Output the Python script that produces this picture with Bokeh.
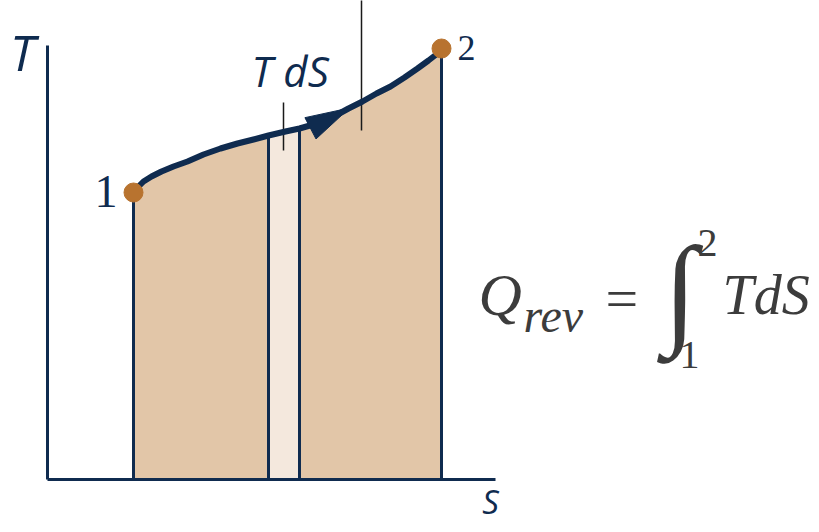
import numpy as np
from bokeh.plotting import figure
from bokeh.models import Range1d
from bokeh.core.properties import value
from bokeh.embed import file_html
from bokeh.resources import INLINE

# Process curve on the T-S diagram (arbitrary units)
S_curve = [86, 90, 96, 104, 114, 126, 140, 156, 173, 190, 206, 221, 238, 252, 266, 278, 290, 301, 315, 329, 343, 357, 370, 381, 390, 394]
T_curve = [287, 292, 298, 303, 308, 313, 318, 325, 331, 336, 340, 344, 348, 351, 355, 360, 365, 371, 378, 386, 393, 402, 411, 419, 426, 431]
state_S = [86, 394]
state_T = [287, 431]
state_labels = ["1", "2"]
strip_S = [221, 252]          # the dS strip
axis_S_max = 448
axis_T_max = 434
tick_dS = [236, 329, 377]     # S, T from, T to
pointer = [314, 349, 480]     # S, T from, T to

NAVY = "#0f2b4f"
FILL = "#e2c6a8"
STRIP = "#f4e8dd"
DOT = "#b8732f"
FORM = "#3c3c3c"

W_PX, H_PX = 811, 524
p = figure(width=W_PX, height=H_PX, output_backend="svg", toolbar_location=None,
           x_range=Range1d(-47, -47 + W_PX), y_range=Range1d(479 - H_PX, 479),
           min_border=0)
p.axis.visible = False
p.grid.visible = False
p.outline_line_color = None
p.background_fill_color = "white"

Sc = np.array(S_curve, dtype=float)
Tc = np.array(T_curve, dtype=float)

# area under curve
p.varea(x=Sc, y1=np.zeros_like(Sc), y2=Tc, fill_color=FILL)
xs = np.linspace(strip_S[0], strip_S[1], 30)
p.varea(x=xs, y1=np.zeros_like(xs), y2=np.interp(xs, Sc, Tc), fill_color=STRIP)

# vertical boundary lines
vx = [state_S[0], strip_S[0], strip_S[1], state_S[1]]
vtop = [float(np.interp(v, Sc, Tc)) for v in vx]
p.segment(x0=vx, y0=[0] * 4, x1=vx, y1=vtop, line_color=NAVY, line_width=3)

# axes
p.segment(x0=[0, 0], y0=[0, 0], x1=[0, axis_S_max], y1=[axis_T_max, 0],
          line_color=NAVY, line_width=3)

# thin marker lines
p.segment(x0=[tick_dS[0], pointer[0]], y0=[tick_dS[1], pointer[1]],
          x1=[tick_dS[0], pointer[0]], y1=[tick_dS[2], pointer[2]],
          line_color="#1a1a1a", line_width=1.5)

# curve
p.line(Sc, Tc, line_color=NAVY, line_width=6, line_cap="round", line_join="round")

# arrow head on the curve
tip_S = 302.0
tip_T = float(np.interp(tip_S, Sc, Tc))
slope = (np.interp(tip_S + 10, Sc, Tc) - np.interp(tip_S - 10, Sc, Tc)) / 20.0
u = np.array([1.0, slope]) / np.hypot(1.0, slope)
n = np.array([-u[1], u[0]])
L, W = 44.0, 12.0
base = np.array([tip_S, tip_T]) - L * u
c1 = base + W * n
c2 = base - W * n
p.patch(x=[tip_S, c1[0], c2[0]], y=[tip_T, c1[1], c2[1]], fill_color=NAVY, line_color=NAVY)

# state points
p.scatter(state_S, state_T, size=19, fill_color=DOT, line_color=DOT)

# labels
p.text(x=[-25], y=[428], text=["T"], text_font=value("Open Sans"), text_font_style="italic",
       text_font_size="50px", text_color=NAVY, text_align="center", text_baseline="alphabetic")
p.text(x=[443], y=[-22], text=["S"], text_font=value("Open Sans"), text_font_style="italic",
       text_font_size="33px", text_color=NAVY, text_align="center", text_baseline="alphabetic")
p.text(x=[204], y=[409], text=["T dS"], text_font=value("Open Sans"), text_font_style="italic",
       text_font_size="42px", text_color=NAVY, text_align="left", text_baseline="alphabetic")
p.text(x=[70], y=[288], text=[state_labels[0]], text_font=value("Liberation Serif"),
       text_font_size="46px", text_color=NAVY, text_align="right", text_baseline="alphabetic")
p.text(x=[410], y=[432], text=[state_labels[1]], text_font=value("Liberation Serif"),
       text_font_size="36px", text_color=NAVY, text_align="left", text_baseline="alphabetic")

# formula
serif = value("Liberation Serif")
p.text(x=[431], y=[185], text=["Q"], text_font=serif, text_font_style="italic",
       text_font_size="60px", text_color=FORM, text_baseline="alphabetic")
p.text(x=[476], y=[164], text=["rev"], text_font=serif, text_font_style="italic",
       text_font_size="48px", text_color=FORM, text_baseline="alphabetic")
p.text(x=[558], y=[181], text=["="], text_font=serif,
       text_font_size="58px", text_color=FORM, text_baseline="alphabetic")
p.text(x=[616], y=[190], text=["∫"], text_font=serif,
       text_font_size="122px", text_color=FORM, text_baseline="alphabetic")
p.text(x=[650], y=[237], text=["2"], text_font=serif,
       text_font_size="40px", text_color=FORM, text_baseline="alphabetic")
p.text(x=[632], y=[125], text=["1"], text_font=serif,
       text_font_size="40px", text_color=FORM, text_baseline="alphabetic")
p.text(x=[675], y=[185], text=["TdS"], text_font=serif, text_font_style="italic",
       text_font_size="56px", text_color=FORM, text_baseline="alphabetic")

open("out.html", "w").write(file_html(p, INLINE))
